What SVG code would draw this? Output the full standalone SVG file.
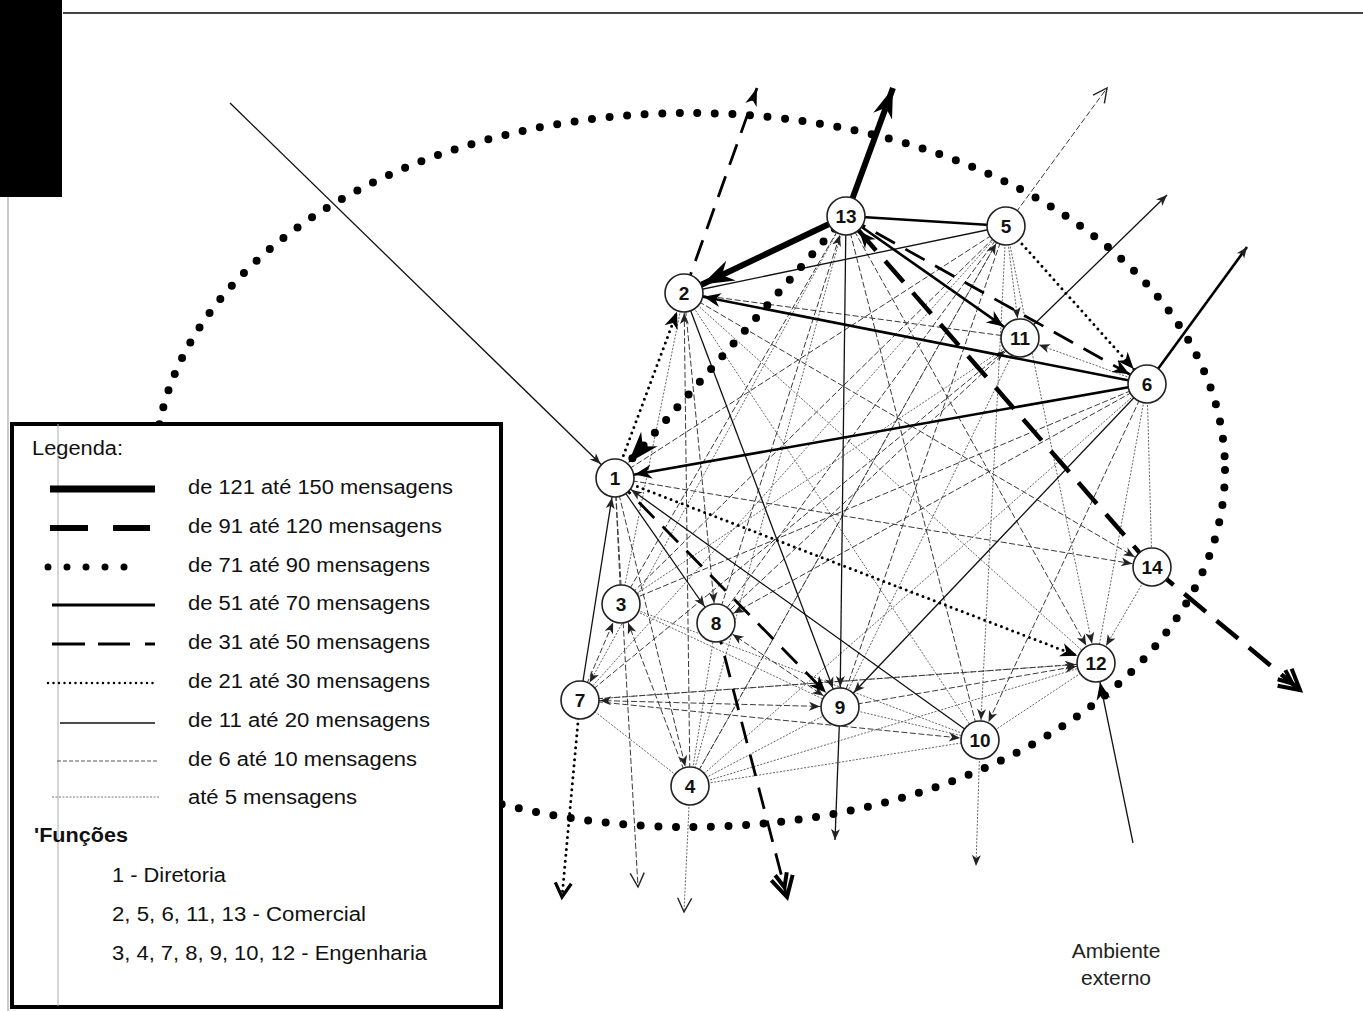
<svg xmlns="http://www.w3.org/2000/svg" width="1363" height="1011" viewBox="0 0 1363 1011">
<style>
  .node circle{fill:#fff;stroke:#222;stroke-width:1.6}
  .node text{font-family:"Liberation Sans",Arial,sans-serif;font-weight:bold;font-size:19px;text-anchor:middle;fill:#111}
  line,path.e{fill:none}
  .c150{stroke:#000;stroke-width:6}
  .c120{stroke:#000;stroke-width:4.5;stroke-dasharray:28 14}
  .c90{stroke:#000;stroke-width:8;stroke-dasharray:0 17;stroke-linecap:round}
  .c70{stroke:#000;stroke-width:2.6}
  .c50{stroke:#000;stroke-width:2.8;stroke-dasharray:22 12}
  .c30{stroke:#000;stroke-width:3;stroke-dasharray:0 6;stroke-linecap:round}
  .c20{stroke:#111;stroke-width:1.3}
  .c10{stroke:#3a3a3a;stroke-width:1;stroke-dasharray:6 2.5}
  .c5{stroke:#666;stroke-width:1;stroke-dasharray:2 1.5}
  .lg{font-family:"Liberation Sans",Arial,sans-serif;font-size:20px;fill:#111}
</style>
<defs>
  <!-- arrowheads stopping at a node rim (r=20) -->
  <marker id="ns" markerUnits="userSpaceOnUse" orient="auto-start-reverse" refX="20" refY="0" overflow="visible"><path d="M0,0 L-11,-4.5 L-8,0 L-11,4.5 z" fill="#222"/></marker>
  <marker id="nm" markerUnits="userSpaceOnUse" orient="auto" refX="20" refY="0" overflow="visible"><path d="M0,0 L-17,-7 L-12,0 L-17,7 z" fill="#000"/></marker>
  <marker id="nb" markerUnits="userSpaceOnUse" orient="auto" refX="20" refY="0" overflow="visible"><path d="M0,0 L-32,-11 L-22,0 L-32,11 z" fill="#000"/></marker>
  <!-- arrowheads at free line ends -->
  <marker id="xs" markerUnits="userSpaceOnUse" orient="auto" refX="0" refY="0" overflow="visible"><path d="M0,0 L-11,-4.5 L-8,0 L-11,4.5 z" fill="#222"/></marker>
  <marker id="xm" markerUnits="userSpaceOnUse" orient="auto" refX="0" refY="0" overflow="visible"><path d="M0,0 L-18,-6 L-13,0 L-18,6 z" fill="#000"/></marker>
  <marker id="xb" markerUnits="userSpaceOnUse" orient="auto" refX="0" refY="0" overflow="visible"><path d="M0,0 L-30,-10 L-21,0 L-30,10 z" fill="#000"/></marker>
  <marker id="xo" markerUnits="userSpaceOnUse" orient="auto" refX="0" refY="0" overflow="visible"><path d="M-14,-7 L0,0 L-14,7" fill="none" stroke="#222" stroke-width="1.4"/></marker>
  <marker id="xot" markerUnits="userSpaceOnUse" orient="auto" refX="0" refY="0" overflow="visible"><path d="M-14,-8 L0,0 L-14,8" fill="none" stroke="#000" stroke-width="3.2"/></marker>
  <marker id="xdd" markerUnits="userSpaceOnUse" orient="auto" refX="0" refY="0" overflow="visible"><path d="M-20,-11 L0,0 L-20,11 M-24,-6 L-10,0 L-24,6" fill="none" stroke="#000" stroke-width="4"/></marker>
</defs>

<rect width="1363" height="1011" fill="#fff"/>

<!-- page edge, binding mark and header rule -->
<rect x="0" y="0" width="62" height="197" fill="#000"/>
<line x1="63" y1="13" x2="1363" y2="13" stroke="#444" stroke-width="1.8"/>
<line x1="8" y1="197" x2="8" y2="1011" stroke="#999" stroke-width="1"/>

<!-- boundary of the group -->
<ellipse id="boundary" cx="690" cy="470" rx="535" ry="357" fill="none" stroke="#000" stroke-width="8" stroke-dasharray="0 17.6" stroke-linecap="round"/>

<g id="connectors">
  <!-- up to 5 messages -->
  <line class="c5" x1="846" y1="216" x2="580" y2="700" marker-end="url(#ns)"/>
  <line class="c5" x1="846" y1="216" x2="690" y2="786"/>
  <line class="c5" x1="1006" y1="226" x2="580" y2="700"/>
  <line class="c5" x1="1006" y1="226" x2="690" y2="786"/>
  <line class="c5" x1="1006" y1="226" x2="980" y2="740" marker-end="url(#ns)"/>
  <line class="c5" x1="1006" y1="226" x2="1096" y2="663" marker-end="url(#ns)"/>
  <line class="c5" x1="1006" y1="226" x2="1020" y2="338" marker-end="url(#ns)"/>
  <line class="c5" x1="1020" y1="338" x2="621" y2="604"/>
  <line class="c5" x1="1147" y1="384" x2="1020" y2="338" marker-end="url(#ns)"/>
  <line class="c5" x1="1020" y1="338" x2="840" y2="707"/>
  <line class="c5" x1="1147" y1="384" x2="1152" y2="567"/>
  <line class="c5" x1="1147" y1="384" x2="690" y2="786"/>
  <line class="c5" x1="1147" y1="384" x2="1096" y2="663"/>
  <line class="c5" x1="684" y1="293" x2="1096" y2="663"/>
  <line class="c5" x1="684" y1="293" x2="980" y2="740"/>
  <line class="c5" x1="684" y1="293" x2="621" y2="604"/>
  <line class="c5" x1="621" y1="604" x2="840" y2="707"/>
  <line class="c5" x1="621" y1="604" x2="980" y2="740"/>
  <line class="c5" x1="690" y1="786" x2="580" y2="700"/>
  <line class="c5" x1="690" y1="786" x2="840" y2="707"/>
  <line class="c5" x1="690" y1="786" x2="1096" y2="663"/>
  <line class="c5" x1="690" y1="786" x2="980" y2="740"/>
  <line class="c5" x1="690" y1="786" x2="716" y2="623"/>
  <line class="c5" x1="840" y1="707" x2="980" y2="740"/>
  <line class="c5" x1="980" y1="740" x2="1096" y2="663"/>
  <line class="c5" x1="1152" y1="567" x2="1096" y2="663" marker-end="url(#ns)"/>
  <line class="c5" x1="580" y1="700" x2="1096" y2="663"/>
  <line class="c5" x1="690" y1="786" x2="684" y2="912" marker-end="url(#xo)"/>
  <line class="c5" x1="980" y1="740" x2="976" y2="866" marker-end="url(#xs)"/>

  <!-- 6 to 10 messages -->
  <line class="c10" x1="846" y1="216" x2="621" y2="604"/>
  <line class="c10" x1="716" y1="623" x2="846" y2="216" marker-end="url(#ns)"/>
  <line class="c10" x1="846" y1="216" x2="980" y2="740"/>
  <line class="c10" x1="846" y1="216" x2="1096" y2="663" marker-end="url(#ns)"/>
  <line class="c10" x1="1006" y1="226" x2="716" y2="623"/>
  <line class="c10" x1="1006" y1="226" x2="621" y2="604"/>
  <line class="c10" x1="1006" y1="226" x2="840" y2="707"/>
  <line class="c10" x1="1006" y1="226" x2="615" y2="478"/>
  <line class="c10" x1="690" y1="786" x2="1006" y2="226" marker-end="url(#ns)"/>
  <line class="c10" x1="684" y1="293" x2="1020" y2="338"/>
  <line class="c10" x1="580" y1="700" x2="1020" y2="338" marker-end="url(#ns)"/>
  <line class="c10" x1="1020" y1="338" x2="716" y2="623"/>
  <line class="c10" x1="1147" y1="384" x2="716" y2="623" marker-end="url(#ns)"/>
  <line class="c10" x1="1147" y1="384" x2="621" y2="604"/>
  <line class="c10" x1="1147" y1="384" x2="980" y2="740" marker-end="url(#ns)"/>
  <line class="c10" x1="684" y1="293" x2="1147" y2="384"/>
  <line class="c10" x1="684" y1="293" x2="1152" y2="567" marker-end="url(#ns)"/>
  <line class="c10" x1="690" y1="786" x2="684" y2="293" marker-end="url(#ns)"/>
  <line class="c10" x1="684" y1="293" x2="716" y2="623" marker-end="url(#ns)"/>
  <line class="c10" x1="615" y1="478" x2="621" y2="604"/>
  <line class="c10" x1="615" y1="478" x2="690" y2="786" marker-end="url(#ns)"/>
  <line class="c10" x1="615" y1="478" x2="1152" y2="567" marker-end="url(#ns)"/>
  <line class="c10" x1="615" y1="478" x2="638" y2="887" marker-end="url(#xo)"/>
  <line class="c10" x1="580" y1="700" x2="621" y2="604" marker-end="url(#ns)"/>
  <line class="c10" x1="690" y1="786" x2="621" y2="604" marker-end="url(#ns)"/>
  <line class="c10" x1="580" y1="700" x2="980" y2="740" marker-end="url(#ns)"/>
  <line class="c10" x1="580" y1="700" x2="840" y2="707" marker-start="url(#ns)" marker-end="url(#ns)"/>
  <line class="c10" x1="840" y1="707" x2="1096" y2="663" marker-end="url(#ns)"/>
  <line class="c10" x1="716" y1="623" x2="840" y2="707" marker-start="url(#ns)" marker-end="url(#ns)"/>
  <line class="c10" x1="580" y1="700" x2="1096" y2="663" marker-end="url(#ns)"/>
  <line class="c10" x1="1006" y1="226" x2="1107" y2="88" marker-end="url(#xo)"/>

  <!-- 11 to 20 messages -->
  <line class="c20" x1="1006" y1="226" x2="684" y2="293"/>
  <line class="c20" x1="1020" y1="338" x2="1167" y2="195" marker-end="url(#xs)"/>
  <line class="c20" x1="1147" y1="384" x2="840" y2="707" marker-end="url(#ns)"/>
  <line class="c20" x1="846" y1="216" x2="840" y2="707" marker-end="url(#ns)"/>
  <line class="c20" x1="684" y1="293" x2="840" y2="707" marker-end="url(#ns)"/>
  <line class="c20" x1="980" y1="740" x2="615" y2="478" marker-end="url(#ns)"/>
  <line class="c20" x1="615" y1="478" x2="716" y2="623" marker-end="url(#ns)"/>
  <line class="c20" x1="580" y1="700" x2="615" y2="478" marker-end="url(#ns)"/>
  <line class="c20" x1="840" y1="707" x2="835" y2="840" marker-end="url(#xs)"/>
  <line class="c20" x1="1133" y1="843" x2="1096" y2="663" marker-end="url(#nm)"/>
  <line class="c20" x1="230" y1="103" x2="615" y2="478" marker-end="url(#ns)"/>

  <!-- 21 to 30 messages -->
  <line class="c30" x1="615" y1="478" x2="684" y2="293" marker-end="url(#nm)"/>
  <line class="c30" x1="1006" y1="226" x2="1147" y2="384" marker-end="url(#nm)"/>
  <line class="c30" x1="615" y1="478" x2="1096" y2="663" marker-end="url(#nm)"/>
  <line class="c30" x1="580" y1="700" x2="562" y2="897" marker-end="url(#xot)"/>

  <!-- 31 to 50 messages -->
  <line class="c50" x1="684" y1="293" x2="757" y2="88" marker-end="url(#xm)"/>
  <line class="c50" x1="846" y1="216" x2="1147" y2="384" marker-end="url(#nm)"/>
  <line class="c50" x1="615" y1="478" x2="840" y2="707" marker-end="url(#nm)"/>
  <line class="c50" x1="716" y1="623" x2="787" y2="897" marker-end="url(#xdd)"/>

  <!-- 51 to 70 messages -->
  <line class="c70" x1="1006" y1="226" x2="846" y2="216"/>
  <line class="c70" x1="846" y1="216" x2="1020" y2="338" marker-end="url(#nm)"/>
  <line class="c70" x1="1147" y1="384" x2="684" y2="293" marker-end="url(#nm)"/>
  <line class="c70" x1="1147" y1="384" x2="615" y2="478" marker-end="url(#nm)"/>
  <line class="c70" x1="1147" y1="384" x2="1247" y2="247" marker-end="url(#xs)"/>

  <!-- 71 to 150 messages -->
  <line class="c90" x1="846" y1="216" x2="615" y2="478" marker-end="url(#nb)"/>
  <line class="c120" x1="1152" y1="567" x2="846" y2="216" marker-end="url(#nm)"/>
  <line class="c120" x1="1152" y1="567" x2="1300" y2="690" marker-end="url(#xdd)"/>
  <line class="c150" x1="846" y1="216" x2="684" y2="293" marker-end="url(#nb)"/>
  <line class="c150" x1="846" y1="216" x2="893" y2="88" marker-end="url(#xb)"/>
</g>

<g id="n13" class="node"><circle cx="846" cy="216" r="19"/><text x="846" y="223">13</text></g>
<g id="n5" class="node"><circle cx="1006" cy="226" r="19"/><text x="1006" y="233">5</text></g>
<g id="n2" class="node"><circle cx="684" cy="293" r="19"/><text x="684" y="300">2</text></g>
<g id="n11" class="node"><circle cx="1020" cy="338" r="19"/><text x="1020" y="345">11</text></g>
<g id="n6" class="node"><circle cx="1147" cy="384" r="19"/><text x="1147" y="391">6</text></g>
<g id="n1" class="node"><circle cx="615" cy="478" r="19"/><text x="615" y="485">1</text></g>
<g id="n14" class="node"><circle cx="1152" cy="567" r="19"/><text x="1152" y="574">14</text></g>
<g id="n3" class="node"><circle cx="621" cy="604" r="19"/><text x="621" y="611">3</text></g>
<g id="n8" class="node"><circle cx="716" cy="623" r="19"/><text x="716" y="630">8</text></g>
<g id="n12" class="node"><circle cx="1096" cy="663" r="19"/><text x="1096" y="670">12</text></g>
<g id="n7" class="node"><circle cx="580" cy="700" r="19"/><text x="580" y="707">7</text></g>
<g id="n9" class="node"><circle cx="840" cy="707" r="19"/><text x="840" y="714">9</text></g>
<g id="n10" class="node"><circle cx="980" cy="740" r="19"/><text x="980" y="747">10</text></g>
<g id="n4" class="node"><circle cx="690" cy="786" r="19"/><text x="690" y="793">4</text></g>

<g id="ambiente">
  <text x="1116" y="958" font-family="Liberation Sans, Arial, sans-serif" font-size="21" text-anchor="middle" fill="#222">Ambiente</text>
  <text x="1116" y="985" font-family="Liberation Sans, Arial, sans-serif" font-size="21" text-anchor="middle" fill="#222">externo</text>
</g>

<g id="legend">
  <rect x="12" y="424" width="489" height="583" fill="#fff" stroke="#000" stroke-width="4"/>
  <line x1="58" y1="424" x2="58" y2="1006" stroke="#aaa" stroke-width="1"/>
  <text class="lg" x="32" y="455" font-size="18" textLength="91" lengthAdjust="spacingAndGlyphs">Legenda:</text>
  <line x1="50" y1="489" x2="155" y2="489" stroke="#000" stroke-width="7"/>
  <path d="M50,528 H88 M113,528 H150" stroke="#000" stroke-width="6"/>
  <line x1="48" y1="567" x2="143" y2="567" stroke="#000" stroke-width="7" stroke-dasharray="0 19" stroke-linecap="round"/>
  <line x1="52" y1="605" x2="155" y2="605" stroke="#000" stroke-width="3"/>
  <path d="M52,644 H85 M98,644 H130 M145,644 H155" stroke="#000" stroke-width="3"/>
  <line x1="48" y1="683" x2="155" y2="683" stroke="#000" stroke-width="2.5" stroke-dasharray="0 5.5" stroke-linecap="round"/>
  <line x1="60" y1="723" x2="155" y2="723" stroke="#111" stroke-width="1.3"/>
  <line x1="57" y1="761" x2="157" y2="761" stroke="#555" stroke-width="1" stroke-dasharray="4 2"/>
  <line x1="52" y1="797" x2="160" y2="797" stroke="#777" stroke-width="1.2" stroke-dasharray="2 1.5"/>
  <text class="lg" x="188" y="494" textLength="265" lengthAdjust="spacingAndGlyphs">de 121 até 150 mensagens</text>
  <text class="lg" x="188" y="533" textLength="254" lengthAdjust="spacingAndGlyphs">de 91 até 120 mensagens</text>
  <text class="lg" x="188" y="572" textLength="242" lengthAdjust="spacingAndGlyphs">de 71 até 90 mensagens</text>
  <text class="lg" x="188" y="610" textLength="242" lengthAdjust="spacingAndGlyphs">de 51 até 70 mensagens</text>
  <text class="lg" x="188" y="649" textLength="242" lengthAdjust="spacingAndGlyphs">de 31 até 50 mensagens</text>
  <text class="lg" x="188" y="688" textLength="242" lengthAdjust="spacingAndGlyphs">de 21 até 30 mensagens</text>
  <text class="lg" x="188" y="727" textLength="242" lengthAdjust="spacingAndGlyphs">de 11 até 20 mensagens</text>
  <text class="lg" x="188" y="766" textLength="229" lengthAdjust="spacingAndGlyphs">de 6 até 10 mensagens</text>
  <text class="lg" x="188" y="804" textLength="169" lengthAdjust="spacingAndGlyphs">até 5 mensagens</text>
  <text class="lg" x="34" y="842" font-weight="bold" textLength="94" lengthAdjust="spacingAndGlyphs">'Funções</text>
  <text class="lg" x="112" y="882" textLength="114" lengthAdjust="spacingAndGlyphs">1 - Diretoria</text>
  <text class="lg" x="112" y="921" textLength="254" lengthAdjust="spacingAndGlyphs">2, 5, 6, 11, 13 - Comercial</text>
  <text class="lg" x="112" y="960" textLength="315" lengthAdjust="spacingAndGlyphs">3, 4, 7, 8, 9, 10, 12 - Engenharia</text>
</g>
</svg>
